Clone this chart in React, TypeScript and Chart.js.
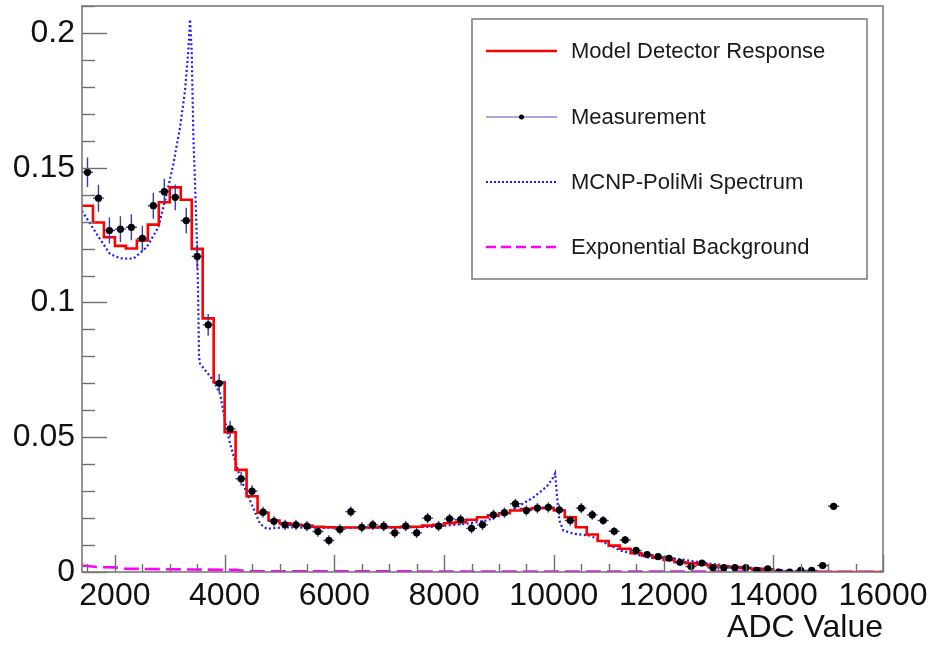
import React, { useEffect, useRef } from 'react';
import { Chart, registerables } from 'chart.js';

Chart.register(...registerables);

// Histogram binning (ADC)
const binLow = 1400;
const binWidth = 200;

// Measurement (bin centres at 1500, 1700, ...)
const measured = [
  0.1483, 0.1387, 0.1267, 0.1272, 0.1279, 0.1238, 0.1359, 0.1411, 0.139, 0.1304,
  0.1171, 0.0917, 0.07, 0.0531, 0.0346, 0.03, 0.0222, 0.0188, 0.0175, 0.0175,
  0.017, 0.015, 0.0117, 0.0158, 0.0224, 0.0166, 0.0175, 0.017, 0.0145, 0.017,
  0.0145, 0.02, 0.017, 0.0197, 0.0194, 0.0162, 0.0175, 0.0212, 0.022, 0.0253,
  0.0228, 0.0237, 0.024, 0.0231, 0.0191, 0.0237, 0.0212, 0.0191, 0.0151, 0.0119,
  0.008, 0.0065, 0.0057, 0.0051, 0.0036, 0.002, 0.0033, 0.0016, 0.0016, 0.0016,
  0.0016, 0.0006, 0.0012, 0.0, 0.0, 0.0006, 0.0006, 0.0024, 0.0244,
];
const measuredErr = [
  0.0055, 0.005, 0.0048, 0.0048, 0.0048, 0.0047, 0.0048, 0.0048, 0.0048, 0.0047,
  0.0045, 0.004, 0.0035, 0.003, 0.0025, 0.0022, 0.002, 0.0019, 0.0019, 0.0019,
  0.0019, 0.0019, 0.0019, 0.0019, 0.0019, 0.0019, 0.0019, 0.0019, 0.0019, 0.0019,
  0.0019, 0.0019, 0.0019, 0.0019, 0.0019, 0.0019, 0.0019, 0.0019, 0.0019, 0.0019,
  0.0019, 0.0019, 0.0019, 0.0019, 0.0019, 0.0019, 0.0018, 0.0017, 0.0016, 0.0015,
  0.0013, 0.0012, 0.0012, 0.0011, 0.001, 0.001, 0.001, 0.0009, 0.0009, 0.0009,
  0.0009, 0.0008, 0.0008, 0.0008, 0.0008, 0.0008, 0.0008, 0.0009, 0.0013,
];

// Model detector response (histogram bin contents)
const model = [
  0.1359, 0.1297, 0.1242, 0.121, 0.12, 0.123, 0.1289, 0.1372, 0.1427, 0.1381,
  0.1199, 0.0941, 0.0704, 0.0519, 0.0379, 0.0281, 0.022, 0.0191, 0.0181, 0.0175,
  0.0172, 0.0168, 0.0166, 0.0165, 0.0165, 0.0165, 0.0165, 0.0166, 0.0166, 0.0167,
  0.0168, 0.0172, 0.0175, 0.0181, 0.0185, 0.0194, 0.0203, 0.021, 0.0218, 0.0228,
  0.0234, 0.0237, 0.0237, 0.0228, 0.0203, 0.0166, 0.0139, 0.0115, 0.0098, 0.0086,
  0.007, 0.0061, 0.0053, 0.0045, 0.0036, 0.0033, 0.0028, 0.0024, 0.002, 0.0018,
  0.0014, 0.0012, 0.0009,
];

// MCNP-PoliMi spectrum
const mcnpX = [
  1400, 1668, 1910, 2093, 2335, 2580, 2791, 2944, 3065, 3187, 3278, 3338, 3369,
  3400, 3429, 3491, 3515, 3533, 3551, 3794, 3916, 4007, 4098, 4281, 4463, 4645,
  4767, 5070, 5679, 7198, 7800, 8414, 8778, 9021, 9325, 9628, 9872, 9993, 10024,
  10054, 10102, 10175, 10357, 10662, 10966, 11209, 11452, 11756, 12060, 12667,
  13275, 13883, 14490, 16000,
];
const mcnpY = [
  0.134, 0.1254, 0.118, 0.1164, 0.1162, 0.1205, 0.1279, 0.1403, 0.1514, 0.165,
  0.1786, 0.1934, 0.205, 0.193, 0.1626, 0.1255, 0.1044, 0.0797, 0.0773, 0.071,
  0.0661, 0.0562, 0.0476, 0.0352, 0.0265, 0.0179, 0.016, 0.0166, 0.0164, 0.0165,
  0.0168, 0.0179, 0.0191, 0.021, 0.024, 0.0277, 0.0317, 0.0352, 0.0366, 0.029,
  0.0191, 0.0154, 0.0142, 0.0135, 0.0105, 0.008, 0.0068, 0.0052, 0.0055, 0.0036,
  0.002, 0.0012, 0.0, 0.0,
];

// Exponential background
const bgX = [1400, 1500, 1700, 2000, 2200, 3500, 4200, 4400, 8000, 16000];
const bgY = [0.0024, 0.0022, 0.0018, 0.0017, 0.0012, 0.0009, 0.0008, 0.0003, 0.0002, 0.0001];

// Axes
const xMin = 1400;
const xMax = 16000;
const yMin = 0;
const yMax = 0.21;
const xTicks = [2000, 4000, 6000, 8000, 10000, 12000, 14000, 16000];
const xMinorStep = 500;
const yTicks = [0, 0.05, 0.1, 0.15, 0.2];
const yTickLabels = ['0', '0.05', '0.1', '0.15', '0.2'];
const yMinorStep = 0.01;

const legendLabels = [
  'Model Detector Response',
  'Measurement',
  'MCNP-PoliMi Spectrum',
  'Exponential Background',
];

const FONT = "'Liberation Sans', Arial, Helvetica, sans-serif";
const RED = '#ff0000';
const BLUE = '#1a1aff';
const MAGENTA = '#ff00ff';
const ERR = '#3a3aa8';

export default function App() {
  const ref = useRef<HTMLCanvasElement | null>(null);

  useEffect(() => {
    document.body.style.margin = '0';
    const canvas = ref.current;
    if (!canvas) return;

    const modelPts = model.map((v, k) => ({ x: binLow + binWidth * k, y: v }));
    modelPts.push({ x: binLow + binWidth * model.length, y: 0 });
    modelPts.push({ x: xMax, y: 0 });

    const measPts = measured.map((v, k) => ({ x: binLow + binWidth * (k + 0.5), y: v }));
    const mcnpPts = mcnpX.map((x, i) => ({ x, y: mcnpY[i] }));
    const bgPts = bgX.map((x, i) => ({ x, y: bgY[i] }));

    const errorBars = {
      id: 'errorBars',
      beforeDatasetDraw(chart: any, args: any) {
        if (args.index !== 1) return;
        const { ctx, scales, chartArea } = chart;
        const xs = scales.x;
        const ys = scales.y;
        ctx.save();
        ctx.beginPath();
        ctx.rect(chartArea.left, chartArea.top, chartArea.right - chartArea.left, chartArea.bottom - chartArea.top);
        ctx.clip();
        ctx.strokeStyle = ERR;
        ctx.lineWidth = 1.4;
        measured.forEach((v, k) => {
          const cx = binLow + binWidth * (k + 0.5);
          const px = xs.getPixelForValue(cx);
          const py = ys.getPixelForValue(v);
          const x1 = xs.getPixelForValue(cx - binWidth / 2);
          const x2 = xs.getPixelForValue(cx + binWidth / 2);
          const y1 = ys.getPixelForValue(v - measuredErr[k]);
          const y2 = ys.getPixelForValue(v + measuredErr[k]);
          ctx.beginPath();
          ctx.moveTo(x1, py);
          ctx.lineTo(x2, py);
          ctx.moveTo(px, y1);
          ctx.lineTo(px, y2);
          ctx.stroke();
        });
        ctx.restore();
      },
    };

    const frameTicks = {
      id: 'frameTicks',
      afterDatasetsDraw(chart: any) {
        const { ctx, scales, chartArea } = chart;
        const xs = scales.x;
        const ys = scales.y;
        const { left, right, top, bottom } = chartArea;
        ctx.save();
        ctx.strokeStyle = '#6e6e6e';
        ctx.lineWidth = 1.4;
        for (let v = yMin; v <= yMax + 1e-9; v += yMinorStep) {
          const vv = Math.round(v * 1000) / 1000;
          const isMajor = yTicks.some((t) => Math.abs(t - vv) < 1e-6);
          const py = Math.round(ys.getPixelForValue(vv)) + 0.5;
          ctx.beginPath();
          ctx.moveTo(left, py);
          ctx.lineTo(left + (isMajor ? 25 : 13), py);
          ctx.stroke();
        }
        for (let v = 1500; v <= xMax; v += xMinorStep) {
          const isMajor = xTicks.includes(v);
          const px = Math.round(xs.getPixelForValue(v)) + 0.5;
          ctx.beginPath();
          ctx.moveTo(px, bottom);
          ctx.lineTo(px, bottom - (isMajor ? 17 : 8));
          ctx.stroke();
        }
        ctx.strokeStyle = '#7a7a7a';
        ctx.lineWidth = 1.6;
        ctx.strokeRect(left, top, right - left, bottom - top);
        ctx.restore();
      },
    };

    const legendBox = {
      id: 'legendBox',
      afterDraw(chart: any) {
        const ctx = chart.ctx;
        const bx = 472, by = 19, bw = 395, bh = 260;
        ctx.save();
        ctx.fillStyle = '#ffffff';
        ctx.fillRect(bx, by, bw, bh);
        ctx.strokeStyle = '#7a7a7a';
        ctx.lineWidth = 1.5;
        ctx.strokeRect(bx, by, bw, bh);
        const rows = [51, 117, 182, 247];
        const sx1 = 486, sx2 = 557;
        ctx.strokeStyle = RED; ctx.lineWidth = 2.5; ctx.setLineDash([]);
        ctx.beginPath(); ctx.moveTo(sx1, rows[0]); ctx.lineTo(sx2, rows[0]); ctx.stroke();
        ctx.strokeStyle = '#8a8ad2'; ctx.lineWidth = 1.5;
        ctx.beginPath(); ctx.moveTo(sx1, rows[1]); ctx.lineTo(sx2, rows[1]); ctx.stroke();
        ctx.fillStyle = '#000000';
        ctx.beginPath(); ctx.arc((sx1 + sx2) / 2, rows[1], 2.5, 0, Math.PI * 2); ctx.fill();
        ctx.strokeStyle = BLUE; ctx.lineWidth = 2; ctx.setLineDash([2, 2]);
        ctx.beginPath(); ctx.moveTo(sx1, rows[2]); ctx.lineTo(sx2, rows[2]); ctx.stroke();
        ctx.strokeStyle = MAGENTA; ctx.lineWidth = 2.5; ctx.setLineDash([10, 5]);
        ctx.beginPath(); ctx.moveTo(sx1, rows[3]); ctx.lineTo(sx2, rows[3]); ctx.stroke();
        ctx.setLineDash([]);
        ctx.fillStyle = '#1a1a1a';
        ctx.font = `22px ${FONT}`;
        ctx.textBaseline = 'middle';
        ctx.textAlign = 'left';
        legendLabels.forEach((t, i) => ctx.fillText(t, 571, rows[i] + 1));
        ctx.restore();
      },
    };

    const chart = new Chart(canvas, {
      type: 'scatter',
      data: {
        datasets: [
          {
            label: legendLabels[0],
            data: modelPts,
            showLine: true,
            stepped: 'before',
            borderColor: RED,
            borderWidth: 2.6,
            pointRadius: 0,
            order: 2,
          } as any,
          {
            label: legendLabels[1],
            data: measPts,
            showLine: false,
            pointRadius: 3.6,
            pointBackgroundColor: '#000000',
            pointBorderColor: '#000000',
            pointBorderWidth: 0,
            order: 0,
          },
          {
            label: legendLabels[2],
            data: mcnpPts,
            showLine: true,
            borderColor: BLUE,
            borderWidth: 2.2,
            borderDash: [2, 2.5],
            pointRadius: 0,
            order: 3,
          },
          {
            label: legendLabels[3],
            data: bgPts,
            showLine: true,
            borderColor: MAGENTA,
            borderWidth: 2.6,
            borderDash: [15, 6],
            pointRadius: 0,
            order: 4,
          },
        ],
      },
      options: {
        responsive: false,
        animation: false,
        events: [],
        layout: { padding: { top: 6, right: 50, left: 0, bottom: 0 } },
        plugins: { legend: { display: false }, tooltip: { enabled: false } },
        scales: {
          x: {
            type: 'linear',
            min: xMin,
            max: xMax,
            grid: { display: false, drawTicks: false },
            border: { display: false },
            afterBuildTicks: (axis: any) => {
              axis.ticks = xTicks.map((v) => ({ value: v }));
            },
            afterFit: (axis: any) => {
              axis.height = 76;
              axis.paddingLeft = 0;
              axis.paddingRight = 0;
            },
            ticks: {
              autoSkip: false,
              maxRotation: 0,
              padding: 5,
              color: '#111111',
              font: { family: FONT, size: 32 },
              callback: (v: any) => String(v),
            },
            title: {
              display: true,
              text: 'ADC Value',
              align: 'end',
              color: '#111111',
              font: { family: FONT, size: 32 },
              padding: { top: 0, bottom: 1 },
            },
          },
          y: {
            type: 'linear',
            min: yMin,
            max: yMax,
            grid: { display: false, drawTicks: false },
            border: { display: false },
            afterBuildTicks: (axis: any) => {
              axis.ticks = yTicks.map((v) => ({ value: v }));
            },
            afterFit: (axis: any) => {
              axis.width = 82;
              axis.paddingTop = 0;
              axis.paddingBottom = 0;
            },
            ticks: {
              autoSkip: false,
              padding: 7,
              color: '#111111',
              font: { family: FONT, size: 32 },
              callback: (v: any) => {
                const i = yTicks.findIndex((t) => Math.abs(t - v) < 1e-9);
                return i >= 0 ? yTickLabels[i] : '';
              },
            },
          },
        },
      },
      plugins: [errorBars, frameTicks, legendBox],
    });

    return () => chart.destroy();
  }, []);

  return (
    <div style={{ width: 933, height: 648 }}>
      <canvas ref={ref} width={933} height={648} style={{ display: 'block' }} />
    </div>
  );
}
